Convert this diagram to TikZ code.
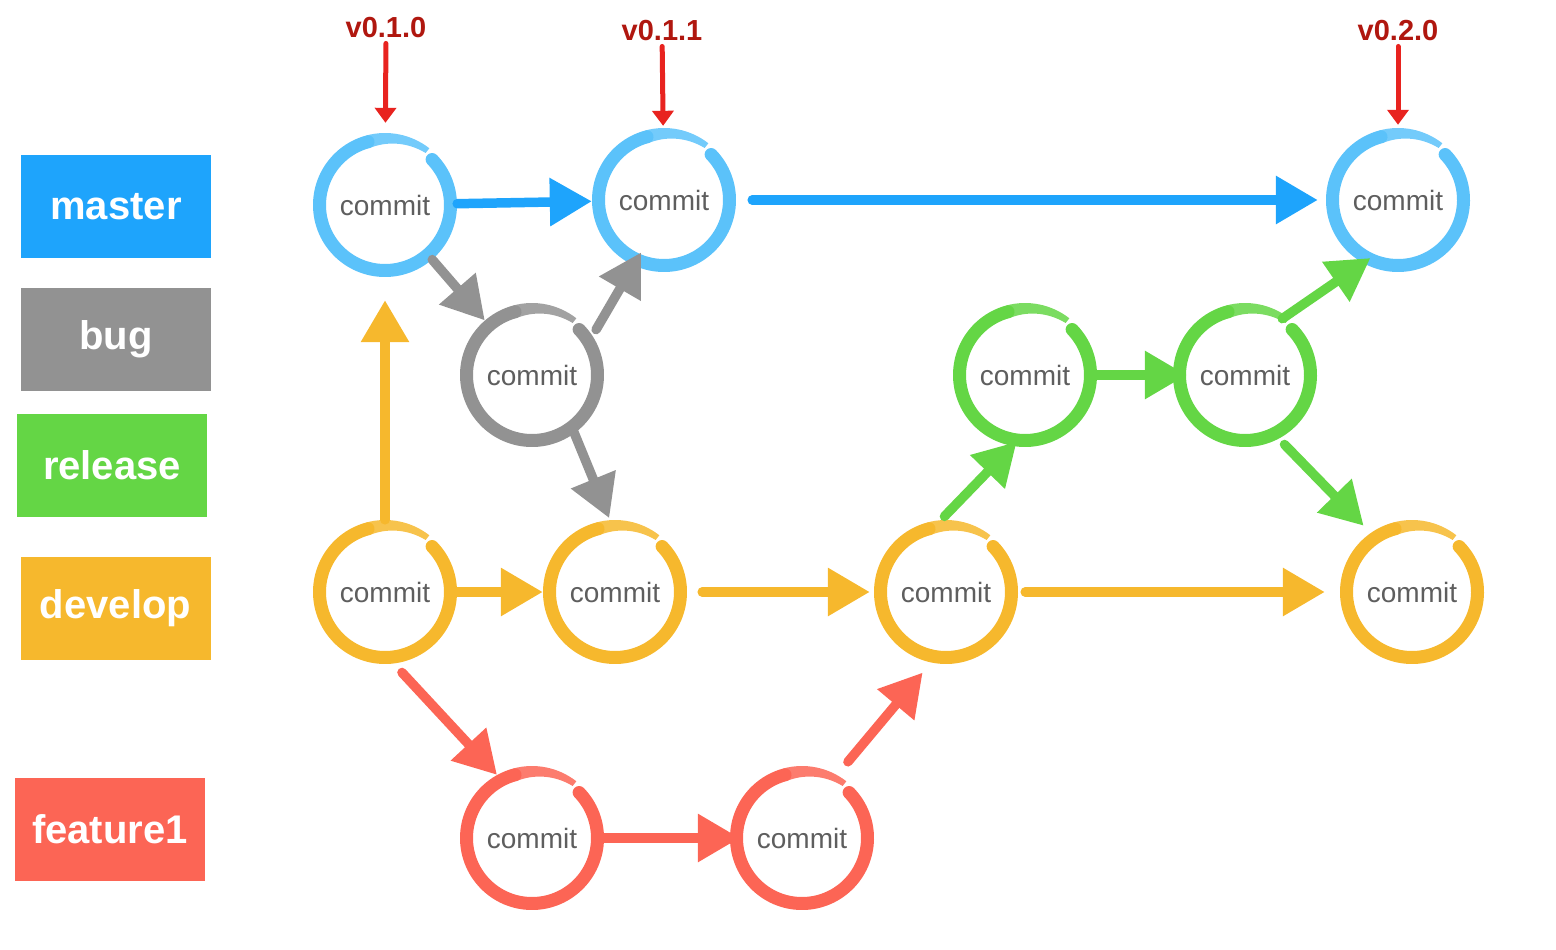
\documentclass[tikz,border=0pt]{standalone}
\usepackage{fontspec}
\setmainfont{Liberation Sans}
\usetikzlibrary{arrows.meta,calc}
\definecolor{cmaster}{HTML}{1EA4FC}
\definecolor{cmring}{HTML}{5BC2FA}
\definecolor{cbug}{HTML}{929292}
\definecolor{crel}{HTML}{64D645}
\definecolor{cdev}{HTML}{F6B82D}
\definecolor{cfeat}{HTML}{FC6555}
\definecolor{ctag}{HTML}{B0170F}
\definecolor{ctagarrow}{HTML}{E8231F}
\definecolor{ctext}{HTML}{5E5E5E}
\newcommand\gitring[2]{%
  \begin{scope}[shift={(#1)}]
    \draw[line width=13pt, line cap=round, #2] (44:65.5) arc[start angle=44, end angle=-255, radius=65.5];
    \fill[#2, opacity=.85] (105:72) arc[start angle=105, end angle=52, radius=72]
      -- plot[domain=52:105, samples=20] ({(59+7*(105-\x)/53)*cos(\x)}, {(59+7*(105-\x)/53)*sin(\x)}) -- cycle;
  \end{scope}}
\tikzset{
  commit/.style={circle, minimum size=144pt, inner sep=0pt, text=ctext, font=\fontsize{28}{34}\selectfont},
  branch/.style={minimum width=190pt, minimum height=103pt, inner sep=0pt, text=white, font=\fontsize{40}{48}\selectfont\bfseries},
  tag/.style={inner sep=0pt, text=ctag, font=\fontsize{29}{34}\selectfont\bfseries},
  flow/.style={line width=9.5pt, line cap=round, -{Triangle[length=42pt,width=46pt]}},
  tagarrow/.style={line width=5pt, line cap=round, ctagarrow, -{Triangle[length=15pt,width=21pt]}}
}
\begin{document}
\begin{tikzpicture}[x=1pt, y=1pt]
\useasboundingbox (0,0) rectangle (1556,-950);
% branch labels
\node[branch, fill=cmaster] (lm) at (116,-206.5) {master};
\node[branch, fill=cbug] (lb) at (116,-339) {bug};
\node[branch, fill=crel] (lr) at (112,-465.5) {release};
\node[branch, fill=cdev] (ld) at (115.5,-608) {develop};
\node[branch, fill=cfeat] (lf) at (110,-829) {feature1};
% commits
\node[commit] (m1) at (385,-205) {commit};
\node[commit] (m2) at (664,-200) {commit};
\node[commit] (m3) at (1398,-200) {commit};
\node[commit] (bug) at (532,-375) {commit};
\node[commit] (r1) at (1025,-375) {commit};
\node[commit] (r2) at (1245,-375) {commit};
\node[commit] (d1) at (385,-592) {commit};
\node[commit] (d2) at (615,-592) {commit};
\node[commit] (d3) at (946,-592) {commit};
\node[commit] (d4) at (1412,-592) {commit};
\node[commit] (fa) at (532,-838) {commit};
\node[commit] (fb) at (802,-838) {commit};
% rings
\gitring{m1}{cmring}
\gitring{m2}{cmring}
\gitring{m3}{cmring}
\gitring{bug}{cbug}
\gitring{r1}{crel}
\gitring{r2}{crel}
\gitring{d1}{cdev}
\gitring{d2}{cdev}
\gitring{d3}{cdev}
\gitring{d4}{cdev}
\gitring{fa}{cfeat}
\gitring{fb}{cfeat}
% tags
\node[tag] (t1) at (386,-28) {v0.1.0};
\node[tag] (t2) at (662,-31) {v0.1.1};
\node[tag] (t3) at (1398,-31) {v0.2.0};
\draw[tagarrow, shorten <=5pt, shorten >=10pt] (t1) -- (m1);
\draw[tagarrow, shorten <=5pt, shorten >=2pt] (t2) -- (m2);
\draw[tagarrow, shorten <=5pt, shorten >=3pt] (t3) -- (m3);
% master
\draw[flow, cmaster] (m1) -- (m2);
\draw[flow, cmaster, shorten <=16pt, shorten >=8pt] (m2) -- (m3);
% bug
\draw[flow, cbug] (m1) -- (bug);
\draw[flow, cbug, shorten <=7pt, shorten >=-15pt] (bug.33) -- (m2.245);
\draw[flow, cbug, shorten <=-4pt, shorten >=2pt] (bug.306) -- (d2.94);
% develop
\draw[flow, cdev, shorten >=23pt] (d1) -- (m1);
\draw[flow, cdev] (d1) -- (d2);
\draw[flow, cdev, shorten <=15pt, shorten >=4pt] (d2) -- (d3);
\draw[flow, cdev, shorten <=7pt, shorten >=15pt] (d3) -- (d4);
% feature
\draw[flow, cfeat, shorten <=12pt] (d1.277) -- (fa.119);
\draw[flow, cfeat, shorten >=-10pt] (fa) -- (fb);
\draw[flow, cfeat, shorten <=17pt, shorten >=13pt] (fb.61) -- (d3.258);
% release
\draw[flow, crel, shorten <=5pt, shorten >=-6pt] (d3.94) -- (r1.260);
\draw[flow, crel, shorten >=-14pt] (r1) -- (r2);
\draw[flow, crel, shorten <=-5pt, shorten >=-9pt] (r2.55) -- (m3.241);
\draw[flow, crel, shorten <=8pt, shorten >=10pt] (r2.298) -- (d4.125);
\end{tikzpicture}
\end{document}
